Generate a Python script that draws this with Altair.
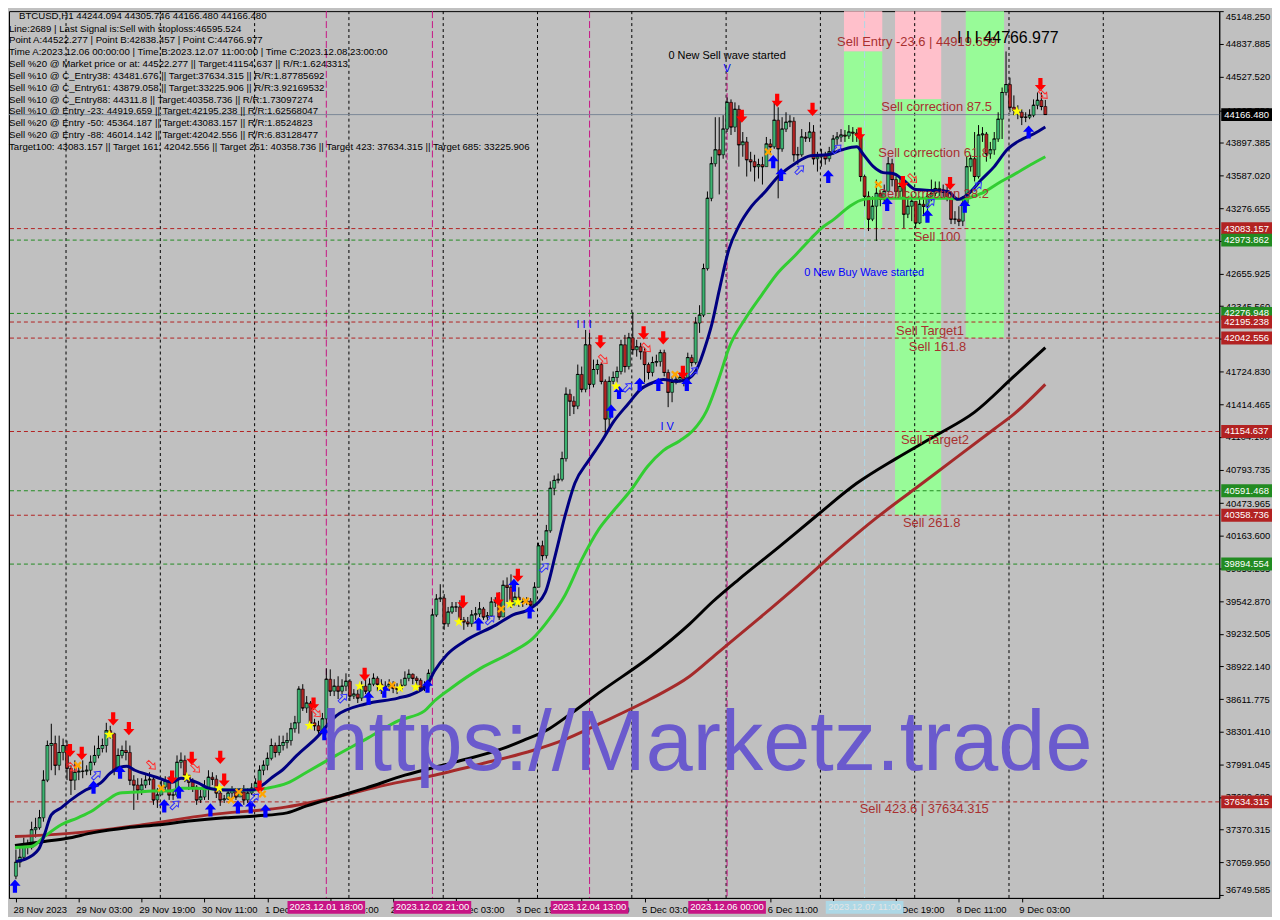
import json
import altair as alt
import pandas as pd

# ---------------- data ----------------
X_TICKS = [0, 16, 32, 48, 64, 80, 96, 112, 128, 144, 160, 176, 192, 208, 224, 240, 256]
X_LABELS = ["28 Nov 2023", "29 Nov 03:00", "29 Nov 19:00", "30 Nov 11:00", "1 Dec 03:00",
            "1 Dec 19:00", "2 Dec 11:00", "3 Dec 03:00", "3 Dec 19:00", "4 Dec 11:00",
            "5 Dec 03:00", "5 Dec 19:00", "6 Dec 11:00", "7 Dec 03:00", "7 Dec 19:00",
            "8 Dec 11:00", "9 Dec 03:00"]
Y_TICKS = [36749.585, 37059.950, 37370.315, 37680.680, 37991.045, 38301.410, 38611.775,
           38922.140, 39232.505, 39542.870, 39853.235, 40163.600, 40473.965, 40793.735,
           41104.100, 41414.465, 41724.830, 42035.195, 42345.560, 42655.925, 42966.290,
           43276.655, 43587.020, 43897.385, 44207.750, 44527.520, 44837.885, 45148.250]

OPEN0 = 36928
CLOSE = [
    37060, 37107, 37229, 37201, 37370, 37389, 37483, 37841, 38170, 38189,
    37982, 38104, 38170, 37953, 37841, 37916, 37925, 37925, 37935, 38010,
    38076, 38142, 38170, 38311, 38283, 37935, 38076, 38123, 38104, 37841,
    37794, 37747, 37794, 37841, 37850, 37653, 37700, 37775, 37831, 37700,
    37700, 38010, 38029, 37888, 37822, 37775, 37653, 37681, 37775, 37869,
    37850, 37718, 37653, 37662, 37718, 37747, 37681, 37728, 37653, 37718,
    37765, 37812, 37935, 37982, 38048, 38170, 38104, 38170, 38198, 38217,
    38330, 38386, 38706, 38527, 38574, 38386, 38358, 38311, 38424, 38800,
    38687, 38734, 38687, 38734, 38781, 38640, 38659, 38621, 38734, 38687,
    38753, 38809, 38753, 38715, 38734, 38753, 38715, 38706, 38743, 38809,
    38847, 38809, 38790, 38715, 38734, 38856, 39411, 39562, 39571, 39327,
    39439, 39487, 39487, 39364, 39345, 39327, 39411, 39421, 39468, 39392,
    39402, 39534, 39534, 39392, 39693, 39674, 39505, 39580, 39534, 39534,
    39543, 39505, 39674, 40069, 39975, 40211, 40615, 40690, 40700, 40897,
    41509, 41443, 41396, 41697, 41556, 41979, 41603, 41744, 41791, 41631,
    41273, 41631, 41668, 41725, 41979, 41772, 42045, 41932, 41960, 41913,
    41791, 41716, 41810, 41819, 41904, 41716, 41527, 41621, 41650, 41668,
    41631, 41857, 41810, 42186, 42261, 42703, 43371, 43700, 43832, 43785,
    44029, 44283, 44048, 44217, 43879, 43907, 43738, 43719, 43672, 43691,
    43672, 43888, 43860, 44114, 43841, 44029, 44095, 44104, 43785, 43785,
    43954, 43944, 44001, 43747, 43766, 43785, 43747, 43813, 43935, 43954,
    43973, 43963, 44001, 43991, 43973, 43578, 43390, 43173, 43296, 43418,
    43361, 43437, 43700, 43549, 43437, 43484, 43220, 43296, 43343, 43136,
    43314, 43296, 43390, 43418, 43465, 43455, 43427, 43380, 43173, 43173,
    43154, 43324, 43672, 43747, 43578, 43973, 43982, 43794, 43832, 43935,
    44123, 44377, 44452, 44236, 44208, 44189, 44142, 44142, 44161, 44255,
    44302, 44244.094, 44166.480]
HIGH = [
    37182, 37229, 37295, 37276, 37446, 37483, 37558, 37935, 38217, 38377,
    38264, 38264, 38236, 38217, 37982, 38029, 37982, 38029, 37982, 38076,
    38170, 38264, 38236, 38386, 38358, 38292, 38142, 38170, 38217, 38170,
    37888, 37859, 37859, 37888, 37916, 37888, 37765, 37841, 37878, 37878,
    37747, 38076, 38104, 38076, 37888, 37859, 37794, 37747, 37841, 37935,
    37916, 37888, 37747, 37700, 37747, 37784, 37765, 37765, 37794, 37765,
    37812, 37859, 37982, 38029, 38104, 38236, 38198, 38264, 38264, 38292,
    38386, 38452, 38734, 38753, 38640, 38593, 38424, 38405, 38480, 38903,
    38894, 38800, 38828, 38800, 38856, 38800, 38706, 38706, 38781, 38800,
    38809, 38856, 38828, 38800, 38781, 38800, 38781, 38762, 38800, 38875,
    38894, 38856, 38828, 38809, 38781, 38894, 39468, 39609, 39703, 39609,
    39487, 39534, 39534, 39552, 39392, 39392, 39458, 39487, 39534, 39487,
    39439, 39580, 39580, 39628, 39740, 39768, 39797, 39628, 39674, 39571,
    39580, 39571, 39722, 40098, 40117, 40267, 40681, 40737, 40756, 40963,
    41574, 41556, 41490, 41791, 41772, 42120, 42092, 41838, 41838, 41810,
    41650, 41678, 41725, 41772, 42026, 42073, 42092, 42289, 42026, 41998,
    41951, 41810, 41866, 41885, 41932, 41932, 41744, 41678, 41697, 41716,
    41716, 41904, 41885, 42242, 42355, 42750, 43436, 43766, 44142, 44142,
    44161, 44330, 44311, 44283, 44255, 44001, 43954, 43813, 43785, 43747,
    43766, 43954, 43935, 44283, 44236, 44142, 44189, 44161, 44142, 43860,
    44029, 44001, 44095, 44067, 43813, 43841, 43813, 43860, 43973, 44001,
    44029, 44020, 44067, 44048, 44029, 44001, 43596, 43437, 43390, 43549,
    43437, 43502, 43766, 43747, 43578, 43559, 43502, 43371, 43408, 43343,
    43390, 43361, 43455, 43549, 43531, 43531, 43502, 43484, 43437, 43249,
    43296, 43390, 43766, 43785, 44001, 44067, 44048, 44001, 43907, 44001,
    44189, 44424, 44766.977, 44518, 44349, 44255, 44217, 44189, 44217, 44311,
    44377, 44377, 44305.746]
LOW = [
    36900, 37013, 37088, 37135, 37182, 37295, 37370, 37446, 37822, 37935,
    37888, 37935, 38029, 37841, 37700, 37747, 37841, 37859, 37888, 37888,
    37982, 38048, 38104, 38104, 38236, 37888, 37916, 38048, 38029, 37794,
    37558, 37653, 37700, 37765, 37794, 37606, 37577, 37728, 37747, 37653,
    37653, 37681, 37953, 37822, 37747, 37728, 37606, 37624, 37653, 37653,
    37794, 37671, 37596, 37624, 37653, 37671, 37653, 37681, 37606, 37624,
    37700, 37747, 37747, 37888, 37935, 38029, 38057, 38076, 38123, 38142,
    38170, 38292, 38283, 38499, 38480, 38358, 38311, 38264, 38283, 38358,
    38640, 38640, 38612, 38659, 38687, 38593, 38612, 38574, 38593, 38659,
    38668, 38734, 38687, 38659, 38687, 38687, 38668, 38659, 38687, 38734,
    38781, 38753, 38706, 38687, 38687, 38687, 38828, 39392, 39534, 39270,
    39298, 39421, 39439, 39345, 39270, 39298, 39298, 39364, 39392, 39364,
    39364, 39392, 39487, 39364, 39392, 39534, 39477, 39534, 39487, 39487,
    39505, 39439, 39487, 39674, 39928, 39947, 40192, 40549, 40662, 40681,
    40869, 41302, 41320, 41367, 41527, 41527, 41556, 41574, 41697, 41603,
    41114, 41179, 41603, 41621, 41697, 41715, 41744, 41885, 41866, 41838,
    41621, 41650, 41678, 41772, 41772, 41678, 41386, 41433, 41603, 41621,
    41584, 41621, 41772, 41791, 42092, 42242, 42684, 43343, 43672, 43408,
    43747, 44001, 43973, 44001, 43672, 43766, 43578, 43625, 43531, 43559,
    43502, 43672, 43785, 43841, 43371, 43813, 44001, 44048, 43719, 43691,
    43766, 43907, 43907, 43691, 43625, 43672, 43691, 43719, 43785, 43879,
    43907, 43907, 43935, 43907, 43907, 43531, 43296, 43060, 43154, 42966,
    43296, 43314, 43455, 43484, 43390, 43371, 43088, 43183, 43154, 43088,
    43126, 43201, 43248, 43343, 43390, 43390, 43371, 43343, 43126, 43126,
    43107, 43107, 43296, 43625, 43531, 43559, 43907, 43719, 43747, 43785,
    43907, 43935, 44349, 44189, 44161, 44123, 44067, 44095, 44123, 44142,
    44217, 44208, 44166.480]

# moving averages (bar index, price)
BLUE_T = [0, 2.25, 5.75, 7.25, 9, 11.5, 14, 17.75, 21.5, 24, 26.5, 28.25, 30.25, 34, 36.5,
          39.75, 42, 46.5, 49, 52.75, 56.5, 60.25, 62.75, 65.25, 67.75, 71.5, 76.5, 81.5, 89,
          97.25, 101.5, 104.75, 106.5, 109.75, 114, 122.25, 126.5, 130.75, 134.75, 137.25,
          139.75, 142.25, 145.75, 149, 152.25, 155.75, 159, 162.25, 164.75, 168.25, 170.75,
          173.25, 175.75, 177.25, 179, 181.5, 184, 187.25, 190.75, 194, 198.25, 202.25, 206.5,
          210.25, 214, 215.75, 218.25, 220.75, 223.25, 225.75, 229, 233.25, 237.25, 239.75,
          242.25, 245.75, 249, 252.25, 255.75, 259, 262]
BLUE_P = [37069, 37088, 37182, 37323, 37511, 37577, 37653, 37747, 37812, 37907, 37963, 37972,
          37935, 37888, 37859, 37822, 37859, 37812, 37765, 37747, 37747, 37747, 37794, 37869,
          37935, 38076, 38245, 38452, 38565, 38621, 38668, 38753, 38875, 39035, 39157, 39317,
          39411, 39468, 39628, 39975, 40352, 40662, 40878, 41057, 41255, 41414, 41556, 41621,
          41650, 41631, 41650, 41744, 41998, 42195, 42496, 42891, 43107, 43296, 43436, 43578,
          43700, 43775, 43785, 43832, 43860, 43785, 43672, 43615, 43606, 43549, 43455, 43446,
          43436, 43361, 43408, 43549, 43672, 43832, 43926, 43982, 44048]
GREEN_T = [-0.25, 4, 7.25, 11.5, 15.75, 19.75, 23.25, 26.5, 30.75, 34.75, 39, 42.25, 45.75,
           50.75, 55.75, 60.75, 64, 69, 74, 81.5, 89.75, 97.25, 104, 106.5, 110.75, 118.25,
           126.5, 131.5, 135.75, 139.75, 144, 148.25, 152.25, 156.5, 160.75, 164.75, 169,
           172.25, 175.75, 179, 181.5, 185.75, 189.75, 194, 198.25, 202.25, 204.75, 208.25,
           212.25, 215.75, 219, 229, 237.25, 240.75, 245.75, 250.75, 254, 258.25, 262]
GREEN_P = [37201, 37211, 37305, 37417, 37483, 37558, 37653, 37718, 37728, 37737, 37737, 37765,
           37765, 37756, 37747, 37747, 37765, 37812, 37916, 38076, 38245, 38405, 38499, 38593,
           38715, 38903, 39063, 39186, 39373, 39599, 39937, 40220, 40408, 40596, 40822, 40973,
           41067, 41161, 41349, 41668, 41951, 42233, 42449, 42666, 42825, 42985, 43079, 43173,
           43296, 43361, 43371, 43371, 43371, 43361, 43418, 43531, 43596, 43690, 43766]
BLACK_T = [-0.25, 7.25, 12.75, 19.75, 28.25, 36.5, 44.75, 53.25, 61.5, 69, 74, 81.5, 89, 99,
           111.5, 124, 129, 135.75, 141.5, 149, 161.5, 171.5, 177.25, 184, 194, 204, 214, 224,
           234, 244, 254, 262]
BLACK_P = [37220, 37258, 37286, 37342, 37389, 37417, 37455, 37483, 37502, 37530, 37596, 37681,
           37765, 37888, 38010, 38142, 38217, 38330, 38480, 38687, 39016, 39327, 39534, 39750,
           40051, 40361, 40662, 40897, 41114, 41339, 41678, 41951]
BROWN_T = [-0.25, 15.75, 32.25, 49, 69, 81.5, 94, 106.5, 119, 131.5, 139, 149, 161.5, 171.5,
           179, 189, 199, 209, 219, 229, 239, 249, 254, 262]
BROWN_P = [37305, 37342, 37417, 37511, 37587, 37681, 37794, 37888, 38001, 38123, 38217, 38386,
           38612, 38828, 39063, 39374, 39693, 40022, 40333, 40615, 40897, 41179, 41320, 41603]

# signal markers
RED_ARROW_T = [13.75, 16.75, 24.75, 28.75, 39.75, 44.75, 52, 53, 62, 75.75, 88.75, 113.75,
               122.75, 127.75, 148.75, 159.75, 164.75, 169.75, 184.75, 193.75, 202.75, 214.75,
               225.75, 237.75, 260.75]
RED_ARROW_P = [38123, 38095, 38424, 38330, 37869, 38048, 38057, 37841, 37775, 38565, 38847,
               39534, 39562, 39787, 42007, 42092, 42045, 41716, 44151, 44302, 44217, 43982,
               43521, 43512, 44452]
BLUE_ARROW_T = [-0.25, 19.75, 26.5, 37.75, 41.5, 49.5, 56.5, 59.75, 63.5, 78.5, 89.75, 93.75,
                104.75, 117.75, 126.75, 130.75, 151.5, 153.5, 158.75, 163.5, 170.75, 192.75,
                194.75, 206.75, 221.75, 232, 241.5, 257.75]
BLUE_ARROW_P = [36834, 37775, 37916, 37596, 37728, 37558, 37587, 37587, 37549, 38283, 38621,
                38687, 38734, 39327, 39693, 39439, 41349, 41527, 41603, 41603, 41603, 43719,
                43597, 43578, 43314, 43201, 43296, 44001]
RED_HOLLOW_T = [14.5, 34.5, 45.75, 76.5, 149.5, 160.5, 228.25, 261.5]
RED_HOLLOW_P = [37963, 37982, 37953, 38480, 41838, 41950, 43559, 44358]
BLUE_HOLLOW_T = [20.5, 40.5, 60.75, 83.25, 120.75, 134.5, 155.75, 172.5, 199.5, 209, 232.75, 244.75]
BLUE_HOLLOW_P = [37888, 37606, 37671, 38621, 39364, 39863, 41575, 41725, 43644, 43841, 43324, 43484]
STAR_T = [23.75, 43.5, 51.75, 74.75, 87.5, 92.75, 97.75, 101.75, 112.75, 125.75, 127.75, 152.75, 254.75]
STAR_P = [38274, 37869, 37765, 38358, 38734, 38725, 38715, 38725, 39345, 39515, 39534, 41584, 44198]
CROSS_T = [15.75, 37, 54.75, 56.75, 62.75, 95.75, 123.5, 129.75, 167.75, 191.5, 219.5]
CROSS_P = [37982, 37765, 37653, 37728, 37709, 38743, 39468, 39543, 41697, 43813, 43502]

# zones (bar from, bar to, price top, price bottom, colour)
ZONE_T1 = [210.75, 210.75, 223.75, 223.75, 241.75]
ZONE_T2 = [220.5, 220.5, 235.5, 235.5, 251.5]
ZONE_P1 = [45150, 44766.977, 45150, 44311.8, 45150]
ZONE_P2 = [44766.977, 43083.157, 44311.8, 40358.736, 42042.556]
ZONE_COL = ["#ffc0cb", "#98fb98", "#ffc0cb", "#98fb98", "#98fb98"]

GRID_T = [12.75, 36.75, 60.75, 84.75, 108.75, 132.75, 156.75, 180.75, 204.75, 228.75, 252.75, 276.75]
VLINE_T = [79, 106, 146, 181, 216]
VLINE_TOP = [45150, 45150, 45150, 44560, 45150]
VLINE_COL = ["#c71585", "#c71585", "#c71585", "#c71585", "#add8e6"]
VLINE_LABEL = ["2023.12.01 18:00", "2023.12.02 21:00", "2023.12.04 13:00", "2023.12.06 00:00", "2023.12.07 11:00"]
VLINE_TXT = ["white", "white", "white", "white", "#e4e4e4"]

LEVEL_P = [43083.157, 42973.862, 42276.948, 42195.238, 42042.556, 41154.637,
           40591.468, 40358.736, 39894.554, 37634.315]
LEVEL_COL = ["#b22222", "#228b22", "#228b22", "#b22222", "#b22222", "#b22222",
             "#228b22", "#b22222", "#228b22", "#b22222"]
LAST_PRICE = 44166.480

LEVEL_TEXT = ["Sell Entry -23.6 | 44919.659", "Sell correction 87.5", "Sell correction 61.8",
              "Sell correction 38.2", "Sell 100", "Sell Target1", "Sell 161.8", "Sell Target2",
              "Sell 261.8", "Sell  423.6 | 37634.315"]
LEVEL_TEXT_T = [209, 220.25, 219.5, 219.5, 228.5, 224, 227.25, 225.25, 225.75, 214.75]
LEVEL_TEXT_P = [44856, 44236, 43803, 43408, 43004, 42110, 41960, 41076, 40286, 37568]

WAVE_TEXT = ["0 New Sell wave started", "V", "0 New Buy Wave started", "I  I  I", "I  V"]
WAVE_T = [181, 181, 215.9, 144.6, 165.75]
WAVE_P = [44725, 44600, 42665, 42167, 41198]
WAVE_COL = ["black", "#0000ff", "#0000ff", "#0000ff", "#0000ff"]

INFO_TITLE = "BTCUSD,H1  44244.094 44305.746 44166.480 44166.480"
INFO = [
    "Line:2689 | Last Signal is:Sell with stoploss:46595.524",
    "Point A:44522.277 | Point B:42838.457 | Point C:44766.977",
    "Time A:2023.12.06 00:00:00 | Time B:2023.12.07 11:00:00 | Time C:2023.12.08 23:00:00",
    "Sell %20 @ Market price or at: 44522.277 || Target:41154.637 || R/R:1.6243313",
    "Sell %10 @ C_Entry38: 43481.676 || Target:37634.315 || R/R:1.87785692",
    "Sell %10 @ C_Entry61: 43879.058 || Target:33225.906 || R/R:3.92169532",
    "Sell %10 @ C_Entry88: 44311.8 || Target:40358.736 || R/R:1.73097274",
    "Sell %10 @ Entry -23: 44919.659 || Target:42195.238 || R/R:1.62568047",
    "Sell %20 @ Entry -50: 45364.187 || Target:43083.157 || R/R:1.8524823",
    "Sell %20 @ Entry -88: 46014.142 || Target:42042.556 || R/R:6.83128477",
    "Target100: 43083.157 || Target 161: 42042.556 || Target 261: 40358.736 || Target 423: 37634.315 || Target 685: 33225.906",
]

# ---------------- tables ----------------
rows = []
prev = OPEN0
for i, (c, h, l) in enumerate(zip(CLOSE, HIGH, LOW)):
    o = prev
    rows.append(dict(t=i, o=o, c=c, hi=max(h, o, c), lo=min(l, o, c),
                     dir="up" if c >= o else "down"))
    prev = c
candles = pd.DataFrame(rows)

XS = alt.Scale(domain=[-0.5, 305], nice=False, zero=False)
YS = alt.Scale(domain=[36721.4, 45150], nice=False, zero=False)
FONT = "Liberation Sans"
XAXIS = alt.Axis(values=X_TICKS, labelExpr=json.dumps(X_LABELS) + "[round(datum.value / 16)]",
                 orient="bottom", title=None, grid=False, labelAlign="left", labelFontSize=9.5,
                 labelFont=FONT, labelColor="black", labelPadding=3, tickSize=4, tickColor="black",
                 domainColor="black", labelOverlap=False, labelBound=False, labelFlush=False,
                 labelOffset=-3)
YAXIS = alt.Axis(values=Y_TICKS, format=".3f", orient="right", title=None, grid=False,
                 labelAlign="left", labelFontSize=9.5, labelFont=FONT, labelColor="black",
                 labelPadding=2, tickSize=4, tickColor="black", domainColor="black",
                 labelOverlap=False, labelFlush=8)


def X(f):
    return alt.X(f, type="quantitative", scale=XS, axis=XAXIS)


def Y(f):
    return alt.Y(f, type="quantitative", scale=YS, axis=YAXIS)


def pts(ts, ps):
    return pd.DataFrame({"t": ts, "p": ps})


layers = []

# zones
zones = pd.DataFrame({"t1": ZONE_T1, "t2": ZONE_T2, "p1": ZONE_P1, "p2": ZONE_P2, "col": ZONE_COL})
layers.append(alt.Chart(zones).mark_rect(opacity=1).encode(
    x=X("t1"), x2="t2", y=Y("p1"), y2="p2", color=alt.Color("col:N", scale=None)))

# grid
layers.append(alt.Chart(pd.DataFrame({"t": GRID_T})).mark_rule(
    color="black", strokeDash=[3, 3], strokeWidth=1).encode(x=X("t")))

# time marker lines
vl = pd.DataFrame({"t": VLINE_T, "top": VLINE_TOP, "bot": [36721.4] * 5, "col": VLINE_COL,
                   "label": VLINE_LABEL, "tcol": VLINE_TXT})
layers.append(alt.Chart(vl).mark_rule(strokeDash=[7, 3], strokeWidth=1).encode(
    x=X("t"), y=Y("top"), y2="bot", color=alt.Color("col:N", scale=None)))

# horizontal levels
lv = pd.DataFrame({"p": LEVEL_P, "col": LEVEL_COL})
layers.append(alt.Chart(lv).mark_rule(strokeDash=[4, 3], strokeWidth=1).encode(
    y=Y("p"), color=alt.Color("col:N", scale=None)))
layers.append(alt.Chart(pd.DataFrame({"p": [LAST_PRICE]})).mark_rule(
    color="#7a8696", strokeWidth=1).encode(y=Y("p")))

# candles
layers.append(alt.Chart(candles).mark_rule(color="black", strokeWidth=1, clip=True).encode(
    x=X("t"), y=Y("lo"), y2="hi"))
layers.append(alt.Chart(candles).mark_bar(size=3, stroke="black", strokeWidth=0.6, opacity=1,
                                          clip=True).encode(
    x=X("t"), y=Y("o"), y2="c",
    color=alt.Color("dir:N", scale=alt.Scale(domain=["up", "down"], range=["#3cb371", "#b22222"]),
                    legend=None)))
layers.append(alt.Chart(candles).mark_tick(orient="horizontal", size=3, thickness=1, clip=True,
                                           color="black", opacity=1).encode(x=X("t"), y=Y("c")))

# moving averages
for ts, ps, col in [(BROWN_T, BROWN_P, "#a52a2a"), (BLACK_T, BLACK_P, "black"),
                    (GREEN_T, GREEN_P, "#32cd32"), (BLUE_T, BLUE_P, "#000080")]:
    layers.append(alt.Chart(pts(ts, ps)).mark_line(color=col, strokeWidth=3, clip=True,
                                                   interpolate="monotone").encode(x=X("t"), y=Y("p")))

# markers
DOWN = "M-0.32,-1L0.32,-1L0.32,0.05L0.85,0.05L0,1L-0.85,0.05L-0.32,0.05Z"
UP = "M-0.32,1L0.32,1L0.32,-0.05L0.85,-0.05L0,-1L-0.85,-0.05L-0.32,-0.05Z"
RIGHT = "M-1,-0.28L0.15,-0.28L0.15,-0.7L1,0L0.15,0.7L0.15,0.28L-1,0.28Z"
STAR = ("M0,-1L0.235,-0.324L0.951,-0.309L0.38,0.124L0.588,0.809L0,0.4L-0.588,0.809"
        "L-0.38,0.124L-0.951,-0.309L-0.235,-0.324Z")
XSHAPE = "M-1,-0.6L-0.6,-1L0,-0.4L0.6,-1L1,-0.6L0.4,0L1,0.6L0.6,1L0,0.4L-0.6,1L-1,0.6L-0.4,0Z"

layers.append(alt.Chart(pts(RED_ARROW_T, RED_ARROW_P)).mark_point(
    shape=DOWN, filled=True, color="#ff0000", size=175, opacity=1, strokeWidth=0, clip=True).encode(
    x=X("t"), y=Y("p")))
layers.append(alt.Chart(pts(BLUE_ARROW_T, BLUE_ARROW_P)).mark_point(
    shape=UP, filled=True, color="#0000ff", size=175, opacity=1, strokeWidth=0, clip=True).encode(
    x=X("t"), y=Y("p")))
layers.append(alt.Chart(pts(RED_HOLLOW_T, RED_HOLLOW_P)).mark_point(
    shape=RIGHT, filled=False, color="#ff3030", size=120, angle=45, opacity=1, strokeWidth=1,
    clip=True).encode(x=X("t"), y=Y("p")))
layers.append(alt.Chart(pts(BLUE_HOLLOW_T, BLUE_HOLLOW_P)).mark_point(
    shape=RIGHT, filled=False, color="#3030ff", size=120, angle=315, opacity=1, strokeWidth=1,
    clip=True).encode(x=X("t"), y=Y("p")))
layers.append(alt.Chart(pts(STAR_T, STAR_P)).mark_point(
    shape=STAR, filled=True, color="#ffff00", size=120, opacity=1, strokeWidth=0, clip=True).encode(
    x=X("t"), y=Y("p")))
layers.append(alt.Chart(pts(CROSS_T, CROSS_P)).mark_point(
    shape=XSHAPE, filled=True, color="#ffa500", size=64, opacity=1, strokeWidth=0, clip=True).encode(
    x=X("t"), y=Y("p")))

# level texts
lt = pd.DataFrame({"t": LEVEL_TEXT_T, "p": LEVEL_TEXT_P, "s": LEVEL_TEXT})
layers.append(alt.Chart(lt).mark_text(align="left", baseline="middle", font=FONT, fontSize=13,
                                      color="#a83030").encode(x=X("t"), y=Y("p"), text="s:N"))
wt = pd.DataFrame({"t": WAVE_T, "p": WAVE_P, "s": WAVE_TEXT, "col": WAVE_COL})
layers.append(alt.Chart(wt).mark_text(align="center", baseline="middle", font=FONT, fontSize=11).encode(
    x=X("t"), y=Y("p"), text="s:N", color=alt.Color("col:N", scale=None)))
layers.append(alt.Chart(pd.DataFrame({"t": [239.5], "p": [44894], "s": ["I I I 44766.977"]})).mark_text(
    align="left", baseline="middle", font=FONT, fontSize=16, color="black").encode(
    x=X("t"), y=Y("p"), text="s:N"))

# watermark
layers.append(alt.Chart(pd.DataFrame({"s": ["https://Marketz.trade"]})).mark_text(
    align="left", baseline="alphabetic", font=FONT, fontSize=85, color="#6a5acd").encode(
    x=alt.value(314), y=alt.value(762), text="s:N"))

# info block
layers.append(alt.Chart(pd.DataFrame({"s": [INFO_TITLE]})).mark_text(
    align="left", baseline="top", font=FONT, fontSize=9.7, color="black").encode(
    x=alt.value(10), y=alt.value(0), text="s:N"))
layers.append(alt.Chart(pd.DataFrame({"s": ["\n".join(INFO)]})).mark_text(
    align="left", baseline="top", font=FONT, fontSize=9.7, color="black", lineBreak="\n",
    lineHeight=11.9).encode(x=alt.value(0), y=alt.value(12.5), text="s:N"))

# price boxes on the right axis
boxes = pd.DataFrame({"p": LEVEL_P + [LAST_PRICE], "col": LEVEL_COL + ["black"],
                      "label": ["%.3f" % v for v in LEVEL_P + [LAST_PRICE]]})
layers.append(alt.Chart(boxes).mark_tick(orient="horizontal", size=51, thickness=13, opacity=1).encode(
    x=alt.value(1243.5), y=Y("p"), color=alt.Color("col:N", scale=None)))
layers.append(alt.Chart(boxes).mark_text(align="center", baseline="middle", font=FONT, fontSize=9.5,
                                         color="white").encode(x=alt.value(1243.5), y=Y("p"), text="label:N"))

# date boxes on the time axis
layers.append(alt.Chart(vl).mark_tick(orient="horizontal", size=78, thickness=13, opacity=1).encode(
    x=X("t"), y=alt.value(900.5), color=alt.Color("col:N", scale=None)))
layers.append(alt.Chart(vl).mark_text(align="center", baseline="middle", font=FONT, fontSize=9.5).encode(
    x=X("t"), y=alt.value(900.5), text="label:N", color=alt.Color("tcol:N", scale=None)))

chart = alt.layer(*layers).properties(
    width=1216, height=891, padding={"left": 0, "top": 0, "right": 0, "bottom": 0}
).configure(background="#c0c0c0", font=FONT).configure_view(stroke="black", strokeWidth=1)

chart.save("out.html", embed_options={"renderer": "svg", "actions": False})
